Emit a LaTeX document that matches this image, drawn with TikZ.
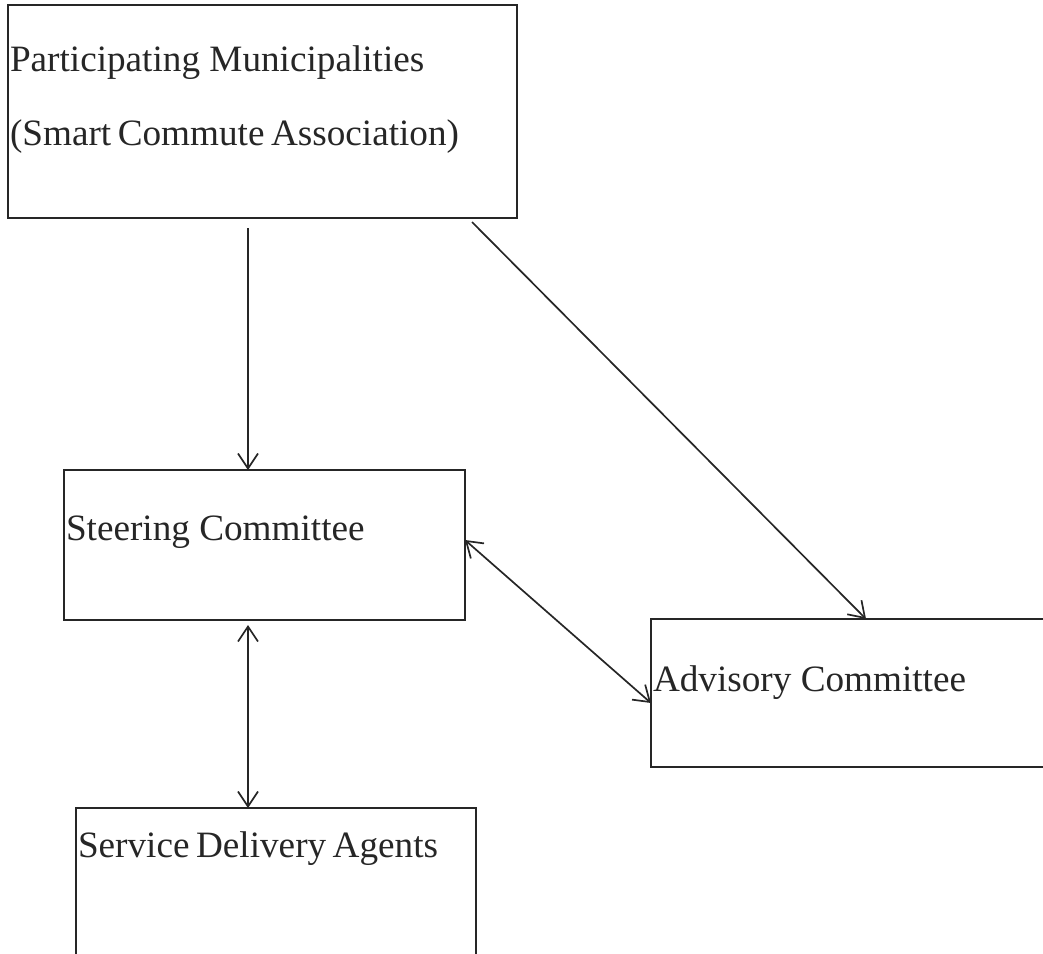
\documentclass[tikz,border=0pt]{standalone}
\usepackage{fontspec}
\setmainfont{Liberation Serif}
\newfontfamily\tightserif[WordSpace=0.7]{Liberation Serif}
\usetikzlibrary{arrows.meta,calc}
\begin{document}
\begin{tikzpicture}[x=1pt,y=-1pt,
  box/.style={draw=black!85,line width=2.8pt,inner sep=0pt,outer sep=0pt},
  lbl/.style={anchor=base west,inner sep=0pt,outer sep=0pt,text=black!85,font=\fontsize{37.2}{43}\selectfont},
  tlbl/.style={lbl,font=\tightserif\fontsize{37.2}{43}\selectfont},
  arr/.style={line width=1.7pt,draw=black!85,-{Straight Barb[length=15pt,width=20pt,line width=1.7pt]}},
  darr/.style={line width=1.7pt,draw=black!85,{Straight Barb[length=15pt,width=20pt,line width=1.7pt]}-{Straight Barb[length=15pt,width=20pt,line width=1.7pt]}}]
\useasboundingbox (0,0) rectangle (1043,953);
\clip (0,0) rectangle (1043,953);
% boxes
\node[box,minimum width=509pt,minimum height=213pt] (pm) at (262.5,111.5) {};
\node[box,minimum width=401pt,minimum height=150pt] (sc) at (264.5,545) {};
\node[box,minimum width=397pt,minimum height=148pt] (ac) at (849.5,693) {};
\node[box,minimum width=400pt,minimum height=157pt] (sd) at (276,886.5) {};
% texts
\node[lbl] (t1) at (10,71) {Participating Municipalities};
\node[tlbl] (t2) at (10,145) {(Smart Commute Association)};
\node[lbl] (t3) at (66,540) {Steering Committee};
\node[lbl] (t4) at (653,691) {Advisory Committee};
\node[tlbl] (t5) at (78,857) {Service Delivery Agents};
% connector ends
\coordinate (a1) at ($(pm.south west)+(240,10)$);
\coordinate (a2) at ($(pm.south east)+(-45,4)$);
\coordinate (a4) at ($(sc.south west)+(184,5)$);
% connectors
\draw[arr] (a1) -- (a1 |- sc.north);
\draw[arr] (a2) -- ($(ac.north west)+(215,0)$);
\draw[darr] ($(sc.north east)+(0,70)$) -- ($(ac.west)+(0,10)$);
\draw[darr] (a4) -- (a4 |- sd.north);
\end{tikzpicture}
\end{document}
